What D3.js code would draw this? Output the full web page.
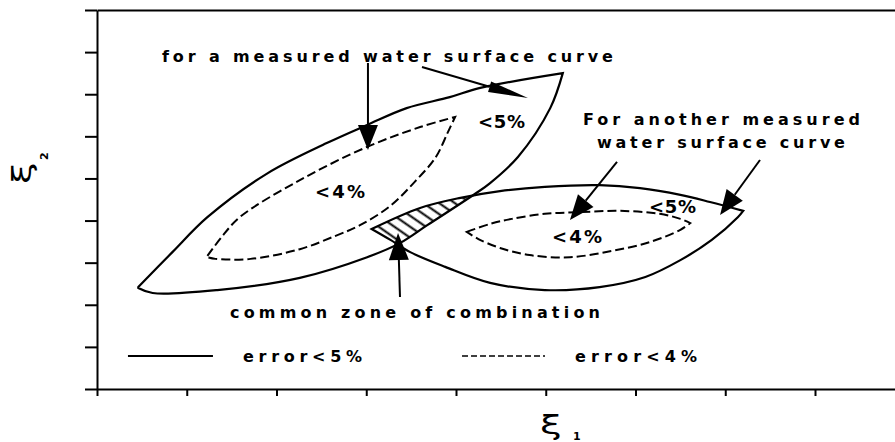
<!DOCTYPE html>
<html>
<head>
<meta charset="utf-8">
<script src="https://cdn.jsdelivr.net/npm/d3@7"></script>
<style>
  body { margin: 0; background: #fff; }
  svg { display: block; overflow: hidden; }
  text { font-family: "DejaVu Sans", sans-serif; fill: #000; }
</style>
</head>
<body>
<svg width="895" height="442"></svg>
<script>
// axis ticks (xi1, xi2 in plot units)
const xTicks = d3.range(0, 10);
const yTicks = d3.range(0, 10);

// zone 1: for a measured water surface curve
const zone1OuterUpper = [[0.46, 2.42], [0.84, 3.25], [1.23, 4.08], [1.89, 5.11], [2.56, 5.84], [3.01, 6.27], [3.45, 6.67], [3.93, 6.93], [4.27, 7.15], [5.19, 7.50]];
const zone1OuterLower = [[5.19, 7.50], [5.05, 6.67], [4.69, 5.51], [4.38, 4.89], [4.21, 4.63], [3.68, 3.89], [3.38, 3.47], [3.01, 3.13], [2.26, 2.64], [1.34, 2.35], [0.62, 2.28], [0.46, 2.40]];
const zone1InnerUpper = [[1.23, 3.16], [1.39, 3.61], [1.59, 4.08], [2.26, 4.96], [3.01, 5.75], [3.60, 6.22], [3.99, 6.46]];
const zone1InnerLower = [[3.99, 6.46], [3.91, 6.10], [3.77, 5.49], [3.54, 4.92], [3.27, 4.35], [2.93, 3.89], [2.65, 3.63], [2.26, 3.32], [1.71, 3.09], [1.32, 3.09], [1.23, 3.13]];

// zone 2: for another measured water surface curve
const zone2OuterUpper = [[3.06, 3.80], [3.60, 4.30], [4.05, 4.54], [4.49, 4.70], [4.99, 4.80], [5.60, 4.84], [6.05, 4.77], [6.50, 4.61], [6.83, 4.44], [7.20, 4.23]];
const zone2OuterLower = [[7.20, 4.23], [7.14, 4.08], [6.85, 3.54], [6.50, 3.06], [6.11, 2.66], [5.60, 2.42], [4.99, 2.35], [4.38, 2.52], [3.88, 2.90], [3.49, 3.25], [3.27, 3.54], [3.06, 3.80]];
const zone2InnerUpper = [[4.12, 3.73], [4.38, 3.92], [4.62, 4.04], [4.99, 4.16], [5.38, 4.20], [5.83, 4.23], [6.27, 4.16], [6.50, 4.04], [6.61, 3.94]];
const zone2InnerLower = [[6.61, 3.94], [6.50, 3.78], [6.16, 3.49], [5.74, 3.28], [5.27, 3.13], [4.82, 3.18], [4.49, 3.35], [4.25, 3.56], [4.12, 3.73]];

// text labels: [text, x start, x end, baseline y]
const labels = [
  ["for a measured water surface curve", 0.724, 5.749, 7.765],
  ["<4%", 2.429, 2.986, 4.536],
  ["<5%", 4.245, 4.769, 6.198],
  ["For another measured", 5.415, 8.501, 6.269],
  ["water surface curve", 5.571, 8.334, 5.723],
  ["<5%", 6.150, 6.674, 4.180],
  ["<4%", 5.070, 5.627, 3.467],
  ["common zone of combination", 1.482, 5.604, 1.686],
  ["error<5%", 1.627, 2.953, 0.641],
  ["error<4%", 5.326, 6.685, 0.641]
];

// arrows: [from, to, head length, head width]
const arrows = [
  [[3.019, 7.742], [3.019, 5.676], 25, 20],
  [[3.621, 7.647], [4.802, 6.910], 40, 11],
  [[3.376, 2.185], [3.354, 3.705], 27, 20],
  [[5.794, 5.391], [5.270, 4.013], 25, 20],
  [[7.387, 5.438], [6.942, 4.132], 25, 20]
];

// legend: [x start, x end, y, dashed]
const legendLines = [
  [0.345, 1.292, 0.784, false],
  [4.067, 4.992, 0.784, true]
];

const svg = d3.select("svg");
const margin = { left: 97, top: 10, bottom: 53 };
const H = 442;

const x = d3.scaleLinear().domain([0, 9]).range([margin.left, margin.left + 9 * 89.75]);
const y = d3.scaleLinear().domain([0, 9]).range([H - margin.bottom, margin.top]);

const line = d3.line().x(d => x(d[0])).y(d => y(d[1])).curve(d3.curveCatmullRom.alpha(0.5));
const outline = (up, low) => line(up) + line(low).replace(/^M/, "L") + "Z";

// hatch pattern for the common zone
const defs = svg.append("defs");
defs.append("pattern")
  .attr("id", "hatch")
  .attr("patternUnits", "userSpaceOnUse")
  .attr("width", 9).attr("height", 9)
  .attr("patternTransform", "rotate(35)")
  .append("line")
  .attr("x1", 0).attr("y1", 4.5).attr("x2", 9).attr("y2", 4.5)
  .attr("stroke", "#000").attr("stroke-width", 2);

defs.append("clipPath").attr("id", "clipZone1")
  .append("path").attr("d", outline(zone1OuterUpper, zone1OuterLower));

// axes
const yAxis = svg.append("g")
  .attr("transform", `translate(${margin.left},0)`)
  .call(d3.axisLeft(y).tickValues(yTicks).tickSize(12).tickSizeOuter(0).tickFormat(""));
const xAxis = svg.append("g")
  .attr("transform", `translate(0,${y(0)})`)
  .call(d3.axisBottom(x).tickValues(xTicks).tickSize(7).tickSizeOuter(0).tickFormat(""));
const topAxis = svg.append("g")
  .attr("transform", `translate(0,${y(9)})`)
  .call(d3.axisTop(x).tickValues([]).tickSizeOuter(0));
[yAxis, xAxis, topAxis].forEach(g => {
  g.selectAll("path, line").attr("stroke", "#000").attr("stroke-width", 2);
});

// hatched common zone (inside both outer curves)
svg.append("path")
  .attr("d", outline(zone2OuterUpper, zone2OuterLower))
  .attr("fill", "url(#hatch)")
  .attr("clip-path", "url(#clipZone1)");

// error<5% curves
[[zone1OuterUpper, zone1OuterLower], [zone2OuterUpper, zone2OuterLower]].forEach(([u, l]) => {
  svg.append("path").attr("d", outline(u, l))
    .attr("fill", "none").attr("stroke", "#000").attr("stroke-width", 2.2)
    .attr("stroke-linejoin", "miter");
});

// error<4% curves
[[zone1InnerUpper, zone1InnerLower], [zone2InnerUpper, zone2InnerLower]].forEach(([u, l]) => {
  svg.append("path").attr("d", outline(u, l))
    .attr("fill", "none").attr("stroke", "#000").attr("stroke-width", 2)
    .attr("stroke-dasharray", "9,4");
});

// arrows
arrows.forEach(([a, b, hl, hw]) => {
  const x1 = x(a[0]), y1 = y(a[1]), x2 = x(b[0]), y2 = y(b[1]);
  const len = Math.hypot(x2 - x1, y2 - y1);
  const ux = (x2 - x1) / len, uy = (y2 - y1) / len;
  const bx = x2 - ux * hl, by = y2 - uy * hl;
  svg.append("line")
    .attr("x1", x1).attr("y1", y1).attr("x2", bx).attr("y2", by)
    .attr("stroke", "#000").attr("stroke-width", 2);
  svg.append("path")
    .attr("d", `M${x2},${y2}L${bx - uy * hw / 2},${by + ux * hw / 2}L${bx + uy * hw / 2},${by - ux * hw / 2}Z`)
    .attr("fill", "#000");
});

// legend lines
legendLines.forEach(([a, b, yy, dashed]) => {
  svg.append("line")
    .attr("x1", x(a)).attr("x2", x(b)).attr("y1", y(yy)).attr("y2", y(yy))
    .attr("stroke", "#000").attr("stroke-width", dashed ? 1.5 : 2)
    .attr("stroke-dasharray", dashed ? "6,3" : null);
});

// text labels (short percent labels set a bit larger)
labels.forEach(([t, a, b, yy]) => {
  svg.append("text")
    .attr("x", x(a)).attr("y", y(yy))
    .attr("font-size", t.length <= 3 ? 18 : 16)
    .attr("font-weight", "bold")
    .attr("textLength", x(b) - x(a))
    .attr("lengthAdjust", "spacing")
    .text(t);
});

// axis titles
svg.append("text")
  .attr("transform", "translate(540,434) scale(1.5,1)")
  .attr("font-size", 26).text("ξ");
svg.append("text").attr("x", 573).attr("y", 440).attr("font-size", 11).attr("font-weight", "bold").text("1");

const yt = svg.append("g").attr("transform", "translate(31,184) rotate(-90)");
yt.append("text").attr("transform", "scale(1.5,1)").attr("font-size", 26).text("ξ");
yt.append("text").attr("x", 24).attr("y", 17).attr("font-size", 11).attr("font-weight", "bold").text("2");
</script>
</body>
</html>
